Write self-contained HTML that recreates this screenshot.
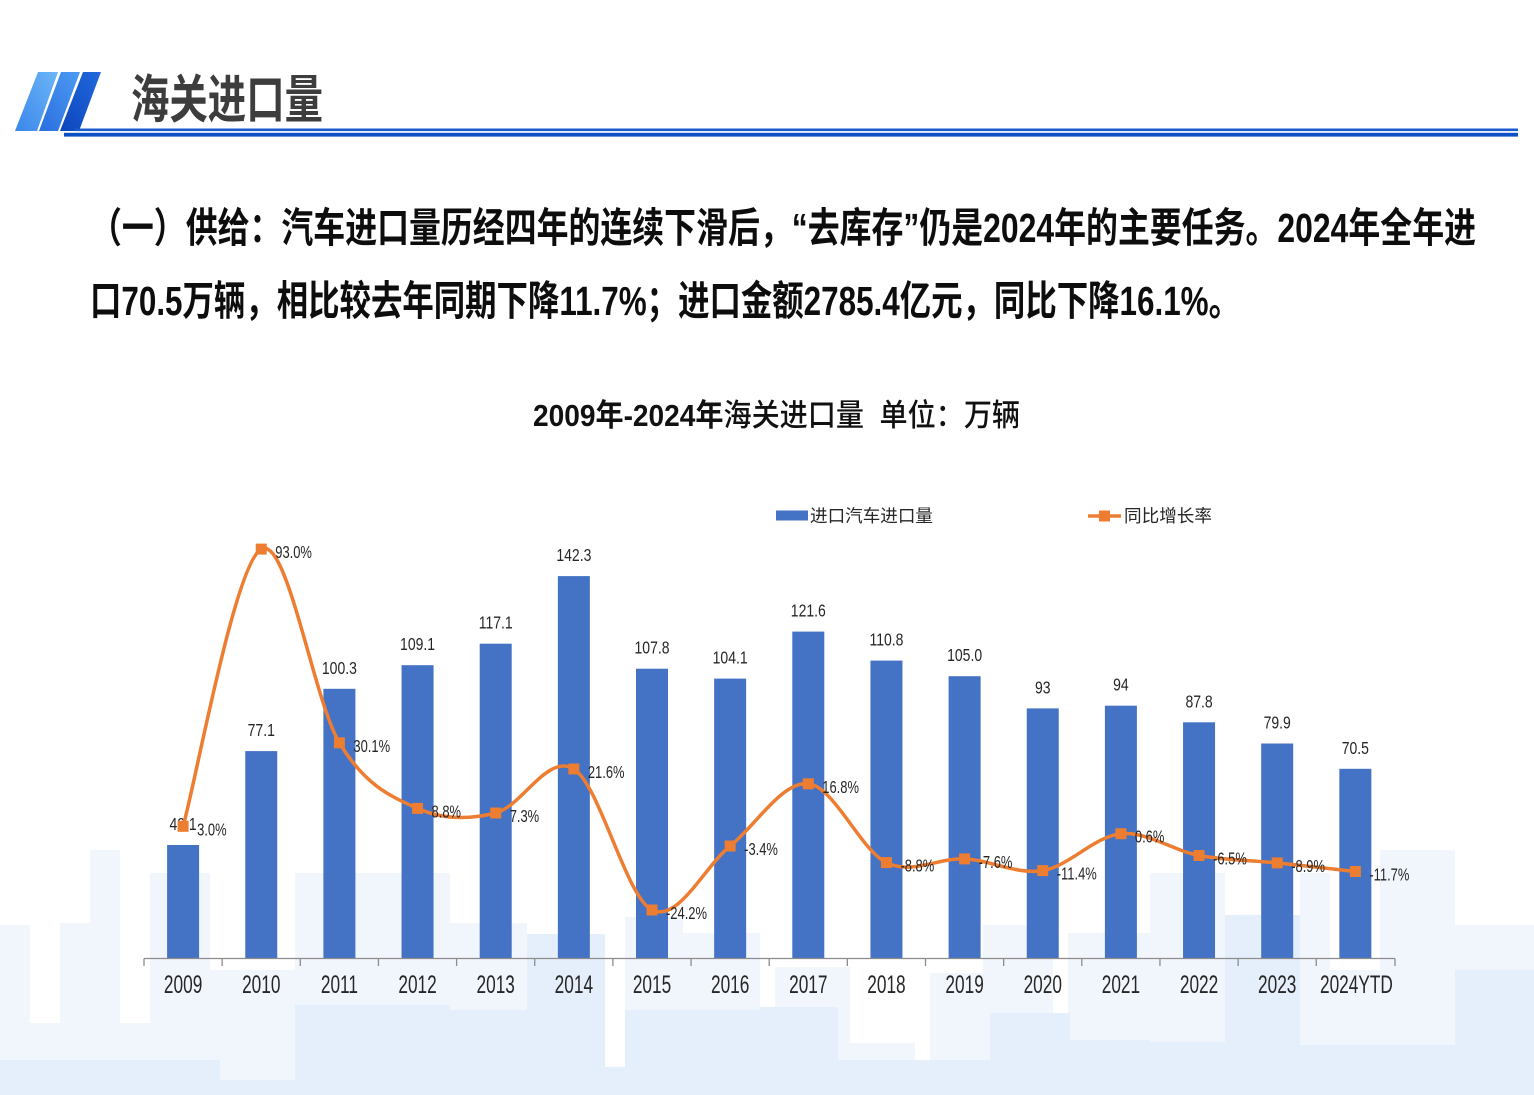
<!DOCTYPE html>
<html>
<head>
<meta charset="utf-8">
<style>
  html,body{margin:0;padding:0;background:#fff;}
  body{width:1534px;height:1095px;overflow:hidden;}
  svg{display:block;}
  .cjk{font-family:"Liberation Sans","Noto Sans CJK SC",sans-serif;}
  .lbl{font-family:"Liberation Sans",sans-serif;fill:#262626;}
</style>
</head>
<body>
<svg width="1534" height="1095" viewBox="0 0 1534 1095" xmlns="http://www.w3.org/2000/svg">
  <defs>
    <linearGradient id="g1" x1="1" y1="0" x2="0" y2="1">
      <stop offset="0" stop-color="#6cb6f8"/>
      <stop offset="1" stop-color="#3a86ea"/>
    </linearGradient>
    <linearGradient id="g2" x1="1" y1="0" x2="0" y2="1">
      <stop offset="0" stop-color="#4d9bf3"/>
      <stop offset="1" stop-color="#2a6ee0"/>
    </linearGradient>
    <linearGradient id="g3" x1="1" y1="0" x2="0" y2="1">
      <stop offset="0" stop-color="#2268dc"/>
      <stop offset="1" stop-color="#0c46bd"/>
    </linearGradient>
  </defs>

  <!-- background skyline: light blocks -->
  <g fill="#f1f6fd">
    <rect x="0" y="925" width="30" height="170"/>
    <rect x="60" y="923" width="30" height="172"/>
    <rect x="90" y="850" width="30" height="245"/>
    <rect x="150" y="873" width="60" height="222"/>
    <rect x="295" y="873" width="155" height="222"/>
    <rect x="450" y="923" width="77" height="172"/>
    <rect x="625" y="917" width="58" height="178"/>
    <rect x="683" y="933" width="77" height="162"/>
    <rect x="775" y="967" width="75" height="128"/>
    <rect x="930" y="973" width="60" height="122"/>
    <rect x="983" y="925" width="70" height="170"/>
    <rect x="1068" y="933" width="82" height="162"/>
    <rect x="1150" y="873" width="75" height="222"/>
    <rect x="1300" y="873" width="30" height="222"/>
    <rect x="1330" y="970" width="50" height="125"/>
    <rect x="1380" y="850" width="75" height="245"/>
    <rect x="1455" y="925" width="79" height="170"/>
    <rect x="30" y="1023" width="30" height="72"/>
    <rect x="120" y="1023" width="30" height="72"/>
    <rect x="210" y="970" width="85" height="125"/>
    <rect x="850" y="1043" width="65" height="52"/>
  </g>
  <!-- medium blocks -->
  <g fill="#e5eefb">
    <rect x="0" y="1060" width="220" height="35"/>
    <rect x="220" y="1080" width="75" height="15"/>
    <rect x="295" y="1005" width="155" height="90"/>
    <rect x="450" y="1010" width="77" height="85"/>
    <rect x="527" y="934" width="78" height="161"/>
    <rect x="625" y="1010" width="135" height="85"/>
    <rect x="760" y="1007" width="78" height="88"/>
    <rect x="838" y="1060" width="152" height="35"/>
    <rect x="990" y="1013" width="80" height="82"/>
    <rect x="1070" y="1040" width="80" height="55"/>
    <rect x="1150" y="1042" width="75" height="53"/>
    <rect x="1225" y="915" width="75" height="180"/>
    <rect x="1300" y="1045" width="155" height="50"/>
    <rect x="1455" y="970" width="79" height="125"/>
    <rect x="605" y="1067" width="20" height="28"/>
  </g>

  <!-- header logo -->
  <polygon points="38,72 58,72 37,131 15,131" fill="url(#g1)"/>
  <polygon points="61,72 80,72 58,131 39,131" fill="url(#g2)"/>
  <polygon points="83,72 101,72 79,131 60,131" fill="url(#g3)"/>
  <rect x="75" y="128.5" width="1443" height="2.6" fill="#1a5ccc"/>
  <rect x="64" y="132.8" width="1454" height="3.8" fill="#0b50c4"/>

  <text x="131" y="118" font-size="52" font-weight="bold" fill="#3d3d3d" class="cjk" textLength="192" lengthAdjust="spacingAndGlyphs">海关进口量</text>

  <!-- body text -->
  <text x="90" y="242" font-size="41" font-weight="bold" fill="#0d0d0d" class="cjk" textLength="1386" lengthAdjust="spacingAndGlyphs">（一）供给：汽车进口量历经四年的连续下滑后，“去库存”仍是2024年的主要任务。2024年全年进</text>
  <text x="90" y="315" font-size="41" font-weight="bold" fill="#0d0d0d" class="cjk" textLength="1150" lengthAdjust="spacingAndGlyphs">口70.5万辆，相比较去年同期下降11.7%；进口金额2785.4亿元，同比下降16.1%。</text>

  <!-- chart title -->
  <text x="533" y="426" font-size="31" fill="#111" class="cjk" textLength="487" lengthAdjust="spacingAndGlyphs"><tspan font-weight="bold">2009年-2024年</tspan><tspan font-weight="500">海关进口量&#160;&#160;单位：万辆</tspan></text>

  <!-- legend -->
  <rect x="776" y="510.5" width="32" height="10" fill="#4472C4"/>
  <text x="810" y="522" font-size="17.5" fill="#262626" class="cjk" textLength="123" lengthAdjust="spacingAndGlyphs">进口汽车进口量</text>
  <line x1="1088" y1="516" x2="1121" y2="516" stroke="#ED7D31" stroke-width="3.5"/>
  <rect x="1099" y="510.5" width="11" height="11" fill="#ED7D31"/>
  <text x="1124" y="522" font-size="17.5" fill="#262626" class="cjk" textLength="88" lengthAdjust="spacingAndGlyphs">同比增长率</text>

  <!-- bars -->
  <g fill="#4472C4">
    <rect x="167.1" y="845.0" width="32" height="113.0"/>
    <rect x="245.25" y="751.1" width="32" height="206.9"/>
    <rect x="323.4" y="688.8" width="32" height="269.2"/>
    <rect x="401.55" y="665.2" width="32" height="292.8"/>
    <rect x="479.7" y="643.7" width="32" height="314.3"/>
    <rect x="557.85" y="576.1" width="32" height="381.9"/>
    <rect x="636.0" y="668.7" width="32" height="289.3"/>
    <rect x="714.15" y="678.6" width="32" height="279.4"/>
    <rect x="792.3" y="631.6" width="32" height="326.4"/>
    <rect x="870.45" y="660.6" width="32" height="297.4"/>
    <rect x="948.6" y="676.2" width="32" height="281.8"/>
    <rect x="1026.75" y="708.4" width="32" height="249.6"/>
    <rect x="1104.9" y="705.7" width="32" height="252.3"/>
    <rect x="1183.05" y="722.3" width="32" height="235.7"/>
    <rect x="1261.2" y="743.5" width="32" height="214.5"/>
    <rect x="1339.35" y="768.8" width="32" height="189.2"/>
  </g>

  <!-- axis -->
  <g stroke="#8c8c8c" stroke-width="1.3">
    <line x1="144" y1="958.5" x2="1395" y2="958.5"/>
    <line x1="144" y1="958.5" x2="144" y2="966"/>
    <line x1="222.15" y1="958.5" x2="222.15" y2="966"/>
    <line x1="300.3" y1="958.5" x2="300.3" y2="966"/>
    <line x1="378.45" y1="958.5" x2="378.45" y2="966"/>
    <line x1="456.6" y1="958.5" x2="456.6" y2="966"/>
    <line x1="534.75" y1="958.5" x2="534.75" y2="966"/>
    <line x1="612.9" y1="958.5" x2="612.9" y2="966"/>
    <line x1="691.05" y1="958.5" x2="691.05" y2="966"/>
    <line x1="769.2" y1="958.5" x2="769.2" y2="966"/>
    <line x1="847.35" y1="958.5" x2="847.35" y2="966"/>
    <line x1="925.5" y1="958.5" x2="925.5" y2="966"/>
    <line x1="1003.65" y1="958.5" x2="1003.65" y2="966"/>
    <line x1="1081.8" y1="958.5" x2="1081.8" y2="966"/>
    <line x1="1159.95" y1="958.5" x2="1159.95" y2="966"/>
    <line x1="1238.1" y1="958.5" x2="1238.1" y2="966"/>
    <line x1="1316.25" y1="958.5" x2="1316.25" y2="966"/>
    <line x1="1395" y1="958.5" x2="1395" y2="966"/>
  </g>

  <!-- x labels -->
  <g class="lbl" font-size="25" text-anchor="middle">
    <text transform="translate(183.1,993) scale(0.69,1)">2009</text>
    <text transform="translate(261.25,993) scale(0.69,1)">2010</text>
    <text transform="translate(339.4,993) scale(0.69,1)">2011</text>
    <text transform="translate(417.55,993) scale(0.69,1)">2012</text>
    <text transform="translate(495.7,993) scale(0.69,1)">2013</text>
    <text transform="translate(573.85,993) scale(0.69,1)">2014</text>
    <text transform="translate(652.0,993) scale(0.69,1)">2015</text>
    <text transform="translate(730.15,993) scale(0.69,1)">2016</text>
    <text transform="translate(808.3,993) scale(0.69,1)">2017</text>
    <text transform="translate(886.45,993) scale(0.69,1)">2018</text>
    <text transform="translate(964.6,993) scale(0.69,1)">2019</text>
    <text transform="translate(1042.75,993) scale(0.69,1)">2020</text>
    <text transform="translate(1120.9,993) scale(0.69,1)">2021</text>
    <text transform="translate(1199.05,993) scale(0.69,1)">2022</text>
    <text transform="translate(1277.2,993) scale(0.69,1)">2023</text>
    <text transform="translate(1356.4,993) scale(0.69,1)">2024YTD</text>
  </g>

  <!-- bar value labels -->
  <g class="lbl" font-size="17.5" text-anchor="middle">
    <text transform="translate(183.1,830) scale(0.8,1)">42.1</text>
    <text transform="translate(261.25,736.1) scale(0.8,1)">77.1</text>
    <text transform="translate(339.4,673.8) scale(0.8,1)">100.3</text>
    <text transform="translate(417.55,650.2) scale(0.8,1)">109.1</text>
    <text transform="translate(495.7,628.7) scale(0.8,1)">117.1</text>
    <text transform="translate(573.85,561.1) scale(0.8,1)">142.3</text>
    <text transform="translate(652.0,653.7) scale(0.8,1)">107.8</text>
    <text transform="translate(730.15,663.6) scale(0.8,1)">104.1</text>
    <text transform="translate(808.3,616.6) scale(0.8,1)">121.6</text>
    <text transform="translate(886.45,645.6) scale(0.8,1)">110.8</text>
    <text transform="translate(964.6,661.2) scale(0.8,1)">105.0</text>
    <text transform="translate(1042.75,693.4) scale(0.8,1)">93</text>
    <text transform="translate(1120.9,690.7) scale(0.8,1)">94</text>
    <text transform="translate(1199.05,707.3) scale(0.8,1)">87.8</text>
    <text transform="translate(1277.2,728.5) scale(0.8,1)">79.9</text>
    <text transform="translate(1355.35,753.8) scale(0.8,1)">70.5</text>
  </g>

  <!-- growth line -->
  <path fill="none" stroke="#ED7D31" stroke-width="3.5" stroke-linejoin="round" stroke-linecap="round"
    d="M183.1,826.3
       C196.13,780.1 235.2,563.02 261.25,549.1
       C287.3,535.18 313.35,699.58 339.4,742.8
       C365.45,786.02 391.5,796.7 417.55,808.4
       C443.6,820.1 469.65,819.57 495.7,813.0
       C521.75,806.43 547.8,752.83 573.85,769.0
       C599.9,785.17 625.95,897.17 652.0,910.0
       C678.05,922.83 704.1,867.03 730.15,846.0
       C756.2,824.97 782.25,781.03 808.3,783.8
       C834.35,786.57 860.4,850.08 886.45,862.6
       C912.5,875.12 938.55,857.57 964.6,858.9
       C990.65,860.23 1016.7,874.8 1042.75,870.6
       C1068.8,866.4 1094.85,836.22 1120.9,833.7
       C1146.95,831.18 1173.0,850.63 1199.05,855.5
       C1225.1,860.37 1251.15,860.23 1277.2,862.9
       C1303.25,865.57 1342.32,870.07 1355.35,871.5"/>

  <!-- markers -->
  <g fill="#ED7D31">
    <rect x="177.6" y="820.8" width="11" height="11"/>
    <rect x="255.75" y="543.6" width="11" height="11"/>
    <rect x="333.9" y="737.3" width="11" height="11"/>
    <rect x="412.05" y="802.9" width="11" height="11"/>
    <rect x="490.2" y="807.5" width="11" height="11"/>
    <rect x="568.35" y="763.5" width="11" height="11"/>
    <rect x="646.5" y="904.5" width="11" height="11"/>
    <rect x="724.65" y="840.5" width="11" height="11"/>
    <rect x="802.8" y="778.3" width="11" height="11"/>
    <rect x="880.95" y="857.1" width="11" height="11"/>
    <rect x="959.1" y="853.4" width="11" height="11"/>
    <rect x="1037.25" y="865.1" width="11" height="11"/>
    <rect x="1115.4" y="828.2" width="11" height="11"/>
    <rect x="1193.55" y="850.0" width="11" height="11"/>
    <rect x="1271.7" y="857.4" width="11" height="11"/>
    <rect x="1349.85" y="866.0" width="11" height="11"/>
  </g>

  <!-- percent labels -->
  <g class="lbl" font-size="17.5">
    <text transform="translate(197.1,835.3) scale(0.74,1)">3.0%</text>
    <text transform="translate(275.25,558.1) scale(0.74,1)">93.0%</text>
    <text transform="translate(353.4,751.8) scale(0.74,1)">30.1%</text>
    <text transform="translate(431.55,817.4) scale(0.74,1)">8.8%</text>
    <text transform="translate(509.7,822.0) scale(0.74,1)">7.3%</text>
    <text transform="translate(587.85,778.0) scale(0.74,1)">21.6%</text>
    <text transform="translate(666.0,919.0) scale(0.74,1)">-24.2%</text>
    <text transform="translate(744.15,855.0) scale(0.74,1)">-3.4%</text>
    <text transform="translate(822.3,792.8) scale(0.74,1)">16.8%</text>
    <text transform="translate(900.45,871.6) scale(0.74,1)">-8.8%</text>
    <text transform="translate(978.6,867.9) scale(0.74,1)">-7.6%</text>
    <text transform="translate(1056.75,879.6) scale(0.74,1)">-11.4%</text>
    <text transform="translate(1134.9,842.7) scale(0.74,1)">0.6%</text>
    <text transform="translate(1213.05,864.5) scale(0.74,1)">-6.5%</text>
    <text transform="translate(1291.2,871.9) scale(0.74,1)">-8.9%</text>
    <text transform="translate(1369.35,880.5) scale(0.74,1)">-11.7%</text>
  </g>
</svg>
</body>
</html>
